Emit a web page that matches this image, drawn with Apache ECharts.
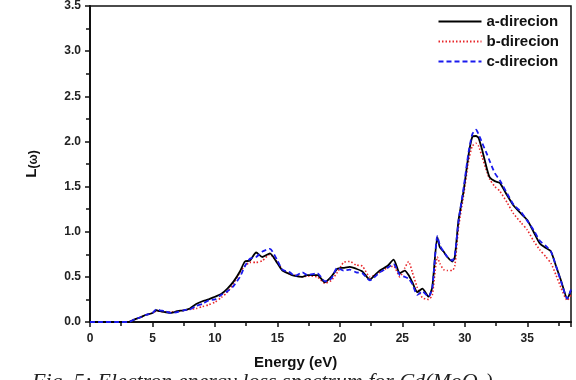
<!DOCTYPE html>
<html lang="en">
<head>
    <meta charset="UTF-8">
    <title>Energy loss spectrum</title>
    <style>
        body { margin: 0; background: #fff; }
        #chart { width: 576px; height: 380px; }
    </style>
    <script src="https://cdn.jsdelivr.net/npm/echarts/dist/echarts.min.js"></script>
</head>
<body>
<div id="chart"></div>
<script>
    // photon energy (eV), shared by all three curves
    var energies = [0, 1, 2, 3, 3.2, 3.6, 4, 4.5, 5, 5.3, 5.6, 6, 6.5, 7, 7.5, 8, 8.5, 9, 9.5, 10,
        10.5, 11, 11.5, 12, 12.4, 12.8, 13.3, 13.8, 14.4, 15, 15.4, 16, 16.4, 17, 17.4, 18.2, 18.8, 19.3, 19.8, 20.3,
        20.8, 21.3, 21.8, 22.4, 22.8, 23.2, 23.8, 24.3, 24.8, 25.2, 25.5, 25.8, 26.2, 26.6, 27.1, 27.4, 27.8, 28.0, 28.3, 28.6,
        29.0, 29.2, 29.5, 29.9, 30.3, 30.6, 30.9, 31.1, 31.4, 31.8, 32.0, 32.4, 32.8, 33.4, 33.9, 34.5, 35, 35.5, 36, 36.5,
        36.9, 37.3, 37.7, 38.2, 38.5];

    var aDir = [0, 0, 0, 0, 0.005, 0.03, 0.05, 0.08, 0.1, 0.13, 0.12, 0.11, 0.1, 0.12, 0.13, 0.15, 0.2, 0.23, 0.25, 0.28,
        0.31, 0.37, 0.45, 0.56, 0.67, 0.68, 0.77, 0.72, 0.76, 0.65, 0.57, 0.53, 0.51, 0.5, 0.52, 0.52, 0.44, 0.5, 0.59, 0.6,
        0.61, 0.59, 0.56, 0.47, 0.52, 0.57, 0.62, 0.69, 0.54, 0.57, 0.52, 0.44, 0.33, 0.37, 0.28, 0.39, 0.94, 0.83, 0.78, 0.72,
        0.67, 0.72, 1.13, 1.45, 1.85, 2.05, 2.06, 2.04, 1.9, 1.68, 1.6, 1.56, 1.54, 1.4, 1.29, 1.2, 1.13, 1.0, 0.87, 0.82,
        0.78, 0.62, 0.46, 0.26, 0.35];

    var bDir = [0, 0, 0, 0, 0.005, 0.03, 0.05, 0.08, 0.1, 0.12, 0.12, 0.11, 0.11, 0.12, 0.13, 0.14, 0.15, 0.17, 0.19, 0.22,
        0.27, 0.33, 0.43, 0.55, 0.62, 0.66, 0.66, 0.68, 0.75, 0.66, 0.58, 0.53, 0.52, 0.5, 0.51, 0.5, 0.43, 0.46, 0.55, 0.66,
        0.67, 0.63, 0.62, 0.5, 0.52, 0.55, 0.6, 0.62, 0.5, 0.6, 0.67, 0.55, 0.38, 0.27, 0.25, 0.3, 0.72, 0.65, 0.58, 0.57,
        0.57, 0.62, 1.05, 1.4, 1.78, 1.95, 1.98, 1.95, 1.82, 1.65, 1.58, 1.5, 1.45, 1.32, 1.2, 1.1, 1.02, 0.9, 0.8, 0.72,
        0.65, 0.52, 0.38, 0.24, 0.3];

    var cDir = [0, 0, 0, 0, 0.005, 0.03, 0.05, 0.08, 0.1, 0.14, 0.13, 0.12, 0.1, 0.11, 0.13, 0.14, 0.18, 0.2, 0.24, 0.25,
        0.3, 0.34, 0.4, 0.5, 0.62, 0.7, 0.72, 0.78, 0.81, 0.68, 0.58, 0.55, 0.51, 0.55, 0.52, 0.54, 0.45, 0.48, 0.6, 0.57,
        0.58, 0.55, 0.54, 0.46, 0.5, 0.55, 0.6, 0.64, 0.52, 0.5, 0.48, 0.42, 0.3, 0.34, 0.28, 0.38, 0.95, 0.85, 0.78, 0.72,
        0.68, 0.74, 1.12, 1.48, 1.88, 2.08, 2.13, 2.08, 1.98, 1.85, 1.78, 1.65, 1.57, 1.42, 1.3, 1.22, 1.12, 1.02, 0.9, 0.84,
        0.78, 0.62, 0.45, 0.26, 0.36];

    var seriesNames = ['a-direcion', 'b-direcion', 'c-direcion'];

    function pairs(vals) {
        return energies.map(function (e, i) { return [e, vals[i]]; });
    }

    var chart = echarts.init(document.getElementById('chart'));

    var axisFont = { color: '#222', fontWeight: 'bold', fontSize: 12, fontFamily: 'Arial' };

    chart.setOption({
        backgroundColor: '#fff',
        animation: false,
        grid: {
            left: 90, right: 5, top: 6, bottom: 58,
            show: true, borderColor: '#111', borderWidth: 1.5
        },
        legend: {
            orient: 'vertical',
            right: 12, top: 9,
            itemWidth: 43, itemHeight: 14, itemGap: 5,
            itemStyle: { opacity: 0 },
            textStyle: { color: '#111', fontWeight: 'bold', fontSize: 15, fontFamily: 'Arial' },
            data: seriesNames
        },
        xAxis: {
            type: 'value',
            min: 0, max: 38.5, interval: 5,
            axisLine: { lineStyle: { color: '#111', width: 2 } },
            axisTick: { length: 5, lineStyle: { color: '#111', width: 1.5 } },
            minorTick: { show: true, splitNumber: 2, length: 4, lineStyle: { color: '#111', width: 1.5 } },
            splitLine: { show: false },
            axisLabel: Object.assign({ margin: 11, showMaxLabel: false }, axisFont)
        },
        yAxis: {
            type: 'value',
            min: 0, max: 3.5, interval: 0.5,
            name: '{a|L}{b|(ω)}',
            nameLocation: 'middle',
            nameGap: 50,
            nameTextStyle: {
                rich: {
                    a: { fontSize: 15, fontWeight: 'bold', fontFamily: 'Arial', color: '#111' },
                    b: { fontSize: 12, fontWeight: 'bold', fontFamily: 'Arial', color: '#111', verticalAlign: 'bottom', padding: [4, 0, 0, 0] }
                }
            },
            axisLine: { show: true, lineStyle: { color: '#111', width: 2 } },
            axisTick: { show: true, length: 5, lineStyle: { color: '#111', width: 1.5 } },
            minorTick: { show: true, splitNumber: 2, length: 4, lineStyle: { color: '#111', width: 1.5 } },
            splitLine: { show: false },
            axisLabel: Object.assign({ margin: 9, formatter: function (v) { return v.toFixed(1); } }, axisFont)
        },
        graphic: [
            {
                type: 'text', left: 254, top: 355,
                style: { text: 'Energy (eV)', font: 'bold 15px Arial', fill: '#111' }
            },
            {
                type: 'text', left: 32, top: 371,
                style: { text: 'Fig. 5: Electron energy loss spectrum for Cd(MoO\u2084)', font: 'italic 22px "Liberation Serif"', fill: '#222' }
            }
        ],
        series: [
            {
                name: seriesNames[0], type: 'line', data: pairs(aDir),
                showSymbol: false, symbol: 'none', smooth: 0.2, z: 3,
                lineStyle: { color: '#000', width: 1.8, type: 'solid' },
                itemStyle: { color: '#000' }
            },
            {
                name: seriesNames[1], type: 'line', data: pairs(bDir),
                showSymbol: false, symbol: 'none', smooth: 0.2, z: 2,
                lineStyle: { color: '#e8262a', width: 1.6, type: [1.5, 2] },
                itemStyle: { color: '#e8262a' }
            },
            {
                name: seriesNames[2], type: 'line', data: pairs(cDir),
                showSymbol: false, symbol: 'none', smooth: 0.2, z: 4,
                lineStyle: { color: '#1a1aee', width: 1.8, type: [5, 3] },
                itemStyle: { color: '#1a1aee' }
            }
        ]
    });
</script>
</body>
</html>
